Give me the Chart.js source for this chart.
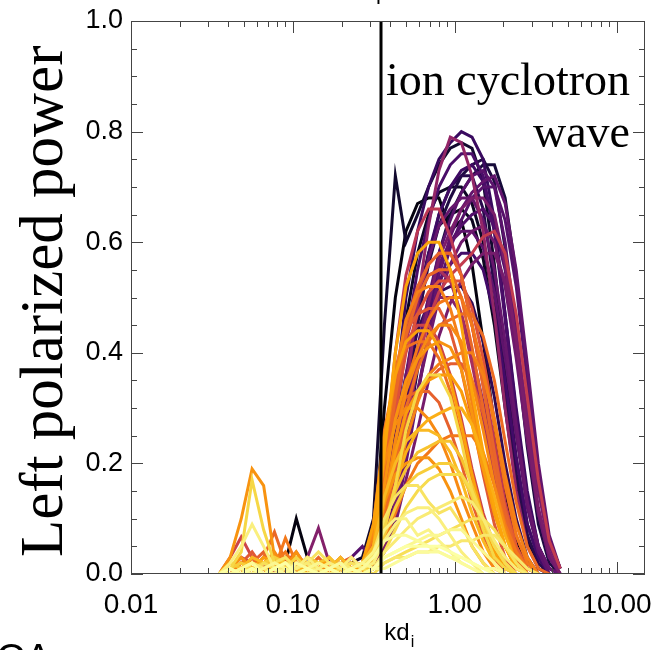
<!DOCTYPE html>
<html>
<head>
<meta charset="utf-8">
<script src="https://cdn.jsdelivr.net/npm/chart.js@4"></script>
<style>
  html, body { margin: 0; padding: 0; background: #fff; }
  #wrap { width: 656px; height: 650px; }
</style>
</head>
<body>
<div id="wrap"><canvas id="myChartPower" width="656" height="650"></canvas></div>
<script>
// kd_i sampling shared by every spectrum
const kd = [0.035, 0.041, 0.048, 0.056, 0.066, 0.077, 0.090, 0.105, 0.123, 0.144, 0.168,
  0.197, 0.230, 0.269, 0.315, 0.368, 0.43, 0.50, 0.59, 0.69, 0.80, 0.94, 1.10, 1.28,
  1.50, 1.76, 2.05, 2.40, 2.81, 3.29, 3.84, 4.49, 5.25];

// left polarized power of each interval, darkest first
const power = [
  [0,0,0,0.01,0,0.01,0.02,0.10,0.03,0,0.01,0,0,0.01,0.05,0.30,0.50,0.62,0.67,0.68,0.68,0.62,0.64,0.56,0.42,0.27,0.14,0.06,0.02,0,null,null,null],
  [0,0,0,0,0.01,0,0,0,0.01,0,0,0.01,0.02,0.03,0.10,0.45,0.72,0.60,0.65,0.70,0.74,0.77,0.78,0.77,0.71,0.56,0.38,0.21,0.09,0.03,0,null,null],
  [0,0,0,0,0,0.01,0,0,0,0,0.01,0,0.01,0.02,0.04,0.14,0.32,0.50,0.62,0.70,0.75,0.78,0.80,0.79,0.75,0.64,0.47,0.29,0.14,0.05,0.01,0,null],
  [0,0,0,0,0.01,0,0,0.01,0,0,0,0,0,0.01,0.02,0.08,0.18,0.32,0.46,0.56,0.63,0.68,0.72,0.74,0.75,0.71,0.59,0.41,0.23,0.09,0.02,0,null],
  [0,0,0.01,0,0,0,0,0,0,0.01,0,0,0.01,0.01,0.03,0.12,0.26,0.42,0.55,0.64,0.70,0.74,0.76,0.76,0.72,0.62,0.46,0.28,0.13,0.04,0.01,0,null],
  [0,0,0,0,0,0,0.01,0,0,0,0,0,0,0.01,0.02,0.07,0.16,0.28,0.40,0.50,0.58,0.64,0.69,0.72,0.73,0.70,0.60,0.44,0.26,0.11,0.03,0,null],
  [0,0,0,0,0,0,0,0.01,0,0,0.01,0,0,0,0.02,0.06,0.15,0.30,0.45,0.57,0.65,0.70,0.72,0.72,0.66,0.52,0.34,0.18,0.07,0.02,0,null,null],
  [0,0,0,0,0,0,0,0,0.01,0,0,0,0.01,0.01,0.03,0.10,0.22,0.36,0.48,0.57,0.63,0.66,0.68,0.68,0.64,0.55,0.42,0.27,0.13,0.05,0.01,0,null],
  [0,0,0,0,0,0,0,0,0,0,0,0,0,0.01,0.03,0.09,0.20,0.35,0.49,0.58,0.63,0.65,0.66,0.64,0.57,0.45,0.30,0.16,0.06,0.01,0,null,null],
  [0,0,0,0,0,0,0,0,0,0,0.01,0,0,0,0.02,0.05,0.12,0.22,0.33,0.42,0.50,0.56,0.60,0.62,0.63,0.60,0.52,0.39,0.24,0.11,0.03,0,null],
  [0,0,0,0,0,0,0,0,0,0.01,0,0,0,0,0.02,0.07,0.16,0.28,0.39,0.47,0.53,0.56,0.58,0.58,0.55,0.47,0.35,0.21,0.09,0.03,0,null,null],
  [0,0,0.01,0,0,0,0.01,0,0,0,0.01,0.01,0.03,0.05,0.02,0.05,0.12,0.22,0.33,0.43,0.52,0.59,0.64,0.68,0.70,0.70,0.64,0.52,0.35,0.18,0.06,0.01,null],
  [0,0,0,0.01,0,0,0,0,0,0,0,0,0,0.01,0.03,0.12,0.25,0.36,0.44,0.49,0.51,0.52,0.52,0.49,0.42,0.32,0.20,0.10,0.03,0,null,null,null],
  [0,0,0,0,0,0,0,0,0,0,0,0,0,0,0.01,0.05,0.12,0.24,0.37,0.49,0.58,0.65,0.69,0.72,0.74,0.74,0.68,0.54,0.36,0.18,0.06,0.01,null],
  [0,0,0,0,0,0,0,0,0,0,0,0,0,0.01,0.02,0.06,0.14,0.26,0.38,0.48,0.55,0.60,0.63,0.65,0.66,0.63,0.55,0.41,0.25,0.11,0.03,0,null],
  [0,0,0,0,0,0,0,0,0,0,0,0,0,0,0.01,0.04,0.10,0.20,0.32,0.44,0.54,0.61,0.66,0.69,0.71,0.72,0.67,0.55,0.38,0.20,0.07,0.01,null],
  [0,0,0,0,0,0,0,0,0,0,0,0,0,0,0.01,0.04,0.09,0.17,0.26,0.35,0.43,0.49,0.53,0.56,0.58,0.58,0.53,0.43,0.29,0.15,0.05,0.01,null],
  [0,0,0,0,0,0,0,0,0,0,0,0,0,0.01,0.04,0.14,0.30,0.46,0.58,0.65,0.69,0.70,0.70,0.67,0.60,0.48,0.33,0.18,0.07,0.01,0,null,null],
  [0,0,0,0,0,0,0,0,0,0,0,0,0,0,0.02,0.08,0.19,0.34,0.48,0.58,0.65,0.70,0.73,0.74,0.71,0.62,0.47,0.30,0.15,0.05,0.01,0,null],
  [0,0,0,0,0,0,0,0,0,0,0,0,0,0,0.02,0.07,0.16,0.29,0.41,0.50,0.56,0.60,0.62,0.62,0.59,0.51,0.39,0.25,0.12,0.04,0,null,null],
  [0,0,0,0,0,0,0,0,0,0,0,0,0,0,0.01,0.05,0.13,0.25,0.38,0.49,0.57,0.62,0.66,0.68,0.68,0.65,0.56,0.42,0.26,0.12,0.04,0,null],
  [0,0,0,0.01,0.02,0,0.01,0,0.02,0.01,0,0,0.01,0,0.02,0.08,0.18,0.33,0.49,0.63,0.73,0.79,0.78,0.72,0.62,0.47,0.30,0.15,0.05,0.01,0,null,null],
  [0,0,0,0,0.01,0,0.02,0.01,0.03,0.083,0.02,0,0,0,0.02,0.07,0.17,0.29,0.39,0.46,0.50,0.50,0.47,0.40,0.31,0.21,0.12,0.05,0.01,0,null,null,null],
  [0,0.01,0.03,0.02,0.01,0,0.01,0,0,0.01,0,0,0,0.01,0.05,0.20,0.40,0.54,0.62,0.66,0.66,0.61,0.54,0.45,0.35,0.24,0.13,0.05,0.01,0,null,null,null],
  [0,0,0,0.01,0,0,0,0.01,0,0,0,0,0,0.01,0.02,0.08,0.17,0.28,0.38,0.46,0.51,0.54,0.56,0.58,0.61,0.62,0.58,0.47,0.32,0.17,0.06,0.01,null],
  [0,0.03,0.067,0.03,0.01,0,0.02,0.01,0,0,0.01,0,0,0.01,0.07,0.22,0.35,0.42,0.45,0.45,0.42,0.36,0.28,0.19,0.11,0.05,0.02,0,null,null,null,null,null],
  [0,0,0,0.01,0,0.02,0.01,0,0.01,0,0,0.01,0,0,0.04,0.14,0.30,0.43,0.51,0.56,0.58,0.58,0.54,0.45,0.34,0.22,0.11,0.04,0.01,0,null,null,null],
  [0,0,0,0,0,0,0,0,0.01,0,0,0,0,0.01,0.04,0.15,0.30,0.42,0.50,0.54,0.55,0.53,0.47,0.38,0.28,0.18,0.09,0.03,0,null,null,null,null],
  [0,0,0,0.02,0.01,0,0.01,0.02,0,0,0,0.01,0,0.01,0.05,0.22,0.40,0.52,0.58,0.60,0.60,0.55,0.45,0.33,0.22,0.12,0.05,0.01,0,null,null,null,null],
  [0,0.03,0.10,0.19,0.16,0.03,0.01,0,0.02,0.01,0,0,0.01,0,0.04,0.16,0.28,0.35,0.39,0.41,0.42,0.41,0.37,0.29,0.20,0.11,0.05,0.01,0,null,null,null,null],
  [0,0,0,0.01,0.03,0.076,0.02,0,0.01,0.03,0.01,0,0.01,0.02,0.06,0.18,0.32,0.43,0.50,0.54,0.55,0.55,0.50,0.41,0.30,0.19,0.09,0.03,0,null,null,null,null],
  [0,0,0.01,0,0.02,0.01,0.065,0.02,0,0.01,0.02,0.01,0,0,0.03,0.12,0.24,0.34,0.41,0.46,0.49,0.50,0.50,0.45,0.37,0.27,0.16,0.07,0.02,0,null,null,null],
  [0,0,0.02,0.04,0.01,0,0.02,0.04,0.01,0,0.01,0.02,0,0.01,0.08,0.24,0.37,0.44,0.47,0.48,0.48,0.44,0.37,0.28,0.18,0.09,0.03,0,null,null,null,null,null],
  [0,0,0.01,0,0.02,0.04,0.01,0.03,0.02,0,0.02,0.01,0,0.01,0.03,0.13,0.24,0.33,0.39,0.43,0.45,0.45,0.42,0.35,0.26,0.16,0.08,0.02,0,null,null,null,null],
  [0,0.01,0,0.03,0.01,0.02,0,0.01,0.03,0.01,0,0.01,0.02,0.01,0.09,0.26,0.36,0.41,0.42,0.42,0.39,0.33,0.25,0.17,0.09,0.04,0.01,0,null,null,null,null,null],
  [0,0,0.02,0.01,0,0.01,0.02,0,0.01,0.02,0,0.01,0,0.01,0.02,0.08,0.16,0.24,0.31,0.36,0.38,0.39,0.40,0.40,0.36,0.28,0.18,0.09,0.03,0,null,null,null],
  [0,0,0,0.01,0,0.01,0.03,0.01,0,0.02,0.01,0.03,0.01,0.02,0.05,0.16,0.29,0.40,0.47,0.51,0.53,0.53,0.53,0.48,0.39,0.28,0.16,0.07,0.02,0,null,null,null],
  [0,0.01,0.02,0.01,0.03,0.02,0.01,0,0.02,0.01,0.03,0.01,0,0.02,0.04,0.13,0.22,0.29,0.33,0.35,0.36,0.36,0.33,0.27,0.19,0.11,0.05,0.01,0,null,null,null,null],
  [0,0,0.01,0.02,0.04,0.01,0,0.02,0.01,0,0.01,0.02,0.03,0.01,0.07,0.20,0.28,0.32,0.33,0.33,0.31,0.26,0.20,0.13,0.07,0.03,0,null,null,null,null,null,null],
  [0,0.01,0,0.01,0.02,0.03,0.01,0.02,0,0.01,0.02,0,0.01,0,0.02,0.09,0.16,0.22,0.26,0.28,0.29,0.30,0.30,0.27,0.21,0.14,0.07,0.02,0,null,null,null,null],
  [0,0.02,0.01,0.03,0.02,0.01,0.03,0.01,0.02,0,0.01,0.03,0.01,0.02,0.05,0.14,0.20,0.24,0.26,0.26,0.25,0.22,0.17,0.11,0.06,0.02,0,null,null,null,null,null,null],
  [0,0,0.01,0,0.01,0.02,0.04,0.01,0.02,0.01,0,0.02,0.01,0,0.02,0.06,0.11,0.16,0.20,0.22,0.24,0.25,0.25,0.25,0.22,0.16,0.09,0.04,0.01,0,null,null,null],
  [0,0.01,0.03,0.01,0,0.02,0.01,0.04,0.01,0.02,0.01,0,0.02,0.01,0.05,0.13,0.18,0.20,0.21,0.21,0.19,0.15,0.10,0.05,0.02,0,null,null,null,null,null,null,null],
  [0,0,0,0,0.01,0,0,0.01,0,0,0,0.01,0,0.01,0.05,0.18,0.33,0.45,0.52,0.56,0.58,0.58,0.54,0.45,0.34,0.22,0.11,0.04,0,null,null,null,null],
  [0,0,0,0.01,0,0,0.01,0,0,0.01,0,0,0.01,0.02,0.07,0.22,0.36,0.46,0.51,0.52,0.52,0.48,0.41,0.31,0.21,0.12,0.05,0.01,0,null,null,null,null],
  [0,0,0,0,0,0.01,0,0,0.01,0,0,0,0,0.01,0.03,0.10,0.20,0.30,0.37,0.42,0.45,0.46,0.47,0.47,0.43,0.35,0.24,0.13,0.05,0.01,0,null,null],
  [0,0,0,0,0.01,0,0,0,0,0.01,0,0,0,0.02,0.09,0.25,0.36,0.42,0.44,0.44,0.41,0.35,0.27,0.18,0.10,0.04,0.01,0,null,null,null,null,null],
  [0,0,0,0,0,0,0.01,0,0,0,0.01,0,0,0.01,0.03,0.10,0.19,0.27,0.32,0.35,0.37,0.38,0.38,0.35,0.29,0.21,0.12,0.05,0.01,0,null,null,null],
  [0,0,0,0,0,0,0,0.01,0,0,0,0.01,0,0.02,0.08,0.20,0.27,0.30,0.30,0.28,0.25,0.20,0.14,0.09,0.04,0.01,0,null,null,null,null,null,null],
  [0,0.02,0.01,0,0.01,0.03,0.02,0.01,0,0.02,0.03,0.01,0.02,0.01,0.03,0.09,0.15,0.19,0.22,0.23,0.24,0.24,0.21,0.16,0.10,0.05,0.02,0,null,null,null,null,null],
  [0,0.01,0.02,0.01,0.02,0.03,0.02,0.01,0.03,0.02,0.01,0.02,0.01,0,0.02,0.07,0.12,0.16,0.18,0.19,0.20,0.20,0.18,0.14,0.09,0.05,0.02,0,null,null,null,null,null],
  [0,0.01,0.04,0.17,0.08,0.02,0.01,0.03,0.01,0.02,0.01,0,0.01,0.02,0.03,0.08,0.16,0.26,0.33,0.36,0.36,0.32,0.24,0.15,0.08,0.03,0.01,0,null,null,null,null,null],
  [0,0,0.01,0,0.02,0.01,0,0.01,0.02,0.01,0,0.01,0,0.01,0,0.02,0.03,0.04,0.05,0.06,0.07,0.08,0.09,0.10,0.10,0.08,0.05,0.02,0,null,null,null,null],
  [0,0.01,0,0.02,0.01,0.02,0.03,0.01,0.02,0.04,0.02,0.01,0.02,0.01,0.04,0.10,0.14,0.16,0.16,0.13,0.11,0.12,0.09,0.05,0.02,0,null,null,null,null,null,null,null],
  [0,0,0.01,0.02,0.01,0,0.02,0.01,0.02,0,0.01,0.02,0.01,0,0.01,0.04,0.06,0.08,0.10,0.11,0.12,0.13,0.14,0.13,0.10,0.06,0.03,0.01,0,null,null,null,null],
  [0,0.02,0.05,0.09,0.05,0.01,0.02,0.01,0.03,0.01,0.02,0.01,0.03,0.01,0.02,0.06,0.09,0.11,0.12,0.12,0.10,0.07,0.04,0.02,0,null,null,null,null,null,null,null,null],
  [0,0,0.01,0,0.01,0.02,0.01,0,0.01,0.02,0.01,0,0.01,0.02,0.01,0.03,0.04,0.05,0.06,0.07,0.07,0.08,0.08,0.06,0.04,0.02,0,null,null,null,null,null,null],
  [0,0,0.01,0.02,0,0.01,0,0.02,0.01,0,0.01,0.02,0,0.01,0.03,0.06,0.07,0.07,0.06,0.05,0.04,0.03,0.02,0.01,0,null,null,null,null,null,null,null,null],
  [0,0.01,0,0.01,0,0.01,0.02,0,0.01,0,0.01,0,0.01,0,0.01,0.03,0.04,0.05,0.05,0.05,0.05,0.04,0.03,0.02,0.01,0,null,null,null,null,null,null,null],
  [0,0,0,0.01,0,0,0.01,0,0,0.01,0,0,0.01,0.02,0.04,0.08,0.10,0.10,0.07,0.08,0.06,0.04,0.02,0.01,0,null,null,null,null,null,null,null,null],
  [0,0,0,0,0.01,0,0,0,0.01,0,0,0.01,0,0,0.01,0.04,0.08,0.12,0.15,0.17,0.18,0.18,0.18,0.15,0.10,0.05,0.02,0,null,null,null,null,null],
  [0,0,0,0,0,0.01,0,0,0,0,0.01,0,0,0,0.01,0.02,0.03,0.03,0.04,0.04,0.05,0.05,0.06,0.06,0.07,0.07,0.05,0.03,0.01,0,null,null,null],
  [0,0,0,0,0,0,0,0,0,0,0,0,0,0,0.01,0.01,0.02,0.03,0.04,0.04,0.04,0.03,0.03,0.02,0.01,0.01,0,null,null,null,null,null,null]
];

// position of each interval on the colour bar (0 = black, 1 = pale yellow)
const shade = [0.02, 0.08, 0.18, 0.12, 0.22, 0.26, 0.14, 0.29, 0.05, 0.31, 0.20, 0.25, 0.16,
  0.10, 0.24, 0.28, 0.33, 0.06, 0.19, 0.27, 0.34,
  0.40, 0.36, 0.50, 0.52, 0.55, 0.58, 0.45,
  0.80, 0.76, 0.66, 0.70, 0.62, 0.74, 0.68, 0.72, 0.60, 0.78, 0.64, 0.82, 0.84, 0.70, 0.76,
  0.65, 0.72, 0.67, 0.79, 0.63, 0.74,
  0.86, 0.88, 0.90, 0.92, 0.93, 0.95, 0.96, 0.98, 0.99, 1.00, 0.97, 0.91, 0.94, 0.99];

const kdCutoff = 0.35;
const xTickValues = [0.01, 0.1, 1, 10];
const xTickLabels = ['0.01', '0.10', '1.00', '10.00'];
const yTickLabels = ['0.0', '0.2', '0.4', '0.6', '0.8', '1.0'];

//COLOUR TABLE (inferno)
const infernoStops = ['#000004', '#160b39', '#420a68', '#6a176e', '#932667', '#bc3754',
  '#dd513a', '#f37819', '#fca50a', '#f6d746', '#fcffa4'];

function hexRgb (h) {
  return [1, 3, 5].map(i => parseInt(h.slice(i, i + 2), 16));
}

function inferno (t) {
  const p = Math.min(Math.max(t, 0), 1) * (infernoStops.length - 1);
  const i = Math.min(Math.floor(p), infernoStops.length - 2);
  const f = p - i;
  const a = hexRgb(infernoStops[i]);
  const b = hexRgb(infernoStops[i + 1]);
  const c = a.map((v, k) => Math.round(v + (b[k] - v) * f));
  return `rgb(${c[0]},${c[1]},${c[2]})`;
}

const datasets = power.map((vals, i) => ({
  data: kd.map((k, j) => ({ x: k, y: vals[j] })).filter(p => p.y != null),
  borderColor: inferno(shade[i]),
  borderWidth: 3,
  pointRadius: 0,
  tension: 0,
  fill: false,
  order: -shade[i]
}));

//FRAME, TICKS AND LABELS
const framePlugin = {
  id: 'framePlugin',
  afterDatasetsDraw (chart) {
    const { ctx, chartArea: a, scales: { x, y } } = chart;
    ctx.save();

    // marker line at kd_i = 0.35
    const xc = Math.round(x.getPixelForValue(kdCutoff));
    ctx.strokeStyle = '#000';
    ctx.lineWidth = 3;
    ctx.beginPath();
    ctx.moveTo(xc, a.top);
    ctx.lineTo(xc, a.bottom);
    ctx.stroke();

    // box
    ctx.strokeStyle = '#444';
    ctx.lineWidth = 1;
    ctx.strokeRect(a.left + 0.5, a.top + 0.5, a.right - a.left - 1, a.bottom - a.top - 1);

    // inward ticks on all four sides
    ctx.beginPath();
    xTickValues.forEach(dec => {
      for (let m = 1; m <= 9; m++) {
        const v = dec * m;
        if (v > x.max) break;
        const px = Math.round(x.getPixelForValue(v)) + 0.5;
        const len = m === 1 ? 12 : 6;
        ctx.moveTo(px, a.bottom);
        ctx.lineTo(px, a.bottom - len);
        ctx.moveTo(px, a.top);
        ctx.lineTo(px, a.top + len);
      }
    });
    for (let n = 0; n <= 20; n++) {
      const py = Math.round(y.getPixelForValue(n / 20)) + 0.5;
      const len = n % 4 === 0 ? 12 : 6;
      ctx.moveTo(a.left, py);
      ctx.lineTo(a.left + len, py);
      ctx.moveTo(a.right, py);
      ctx.lineTo(a.right - len, py);
    }
    ctx.stroke();
    ctx.restore();
  },
  afterDraw (chart) {
    const { ctx } = chart;
    ctx.save();
    ctx.fillStyle = '#000';

    // y title
    ctx.font = '61px "Liberation Serif"';
    ctx.textAlign = 'left';
    ctx.textBaseline = 'alphabetic';
    ctx.save();
    ctx.translate(62, 557);
    ctx.rotate(-Math.PI / 2);
    ctx.fillText('Left polarized power', 0, 0);
    ctx.restore();

    // annotation
    ctx.font = '46px "Liberation Serif"';
    ctx.textAlign = 'right';
    ctx.fillText('ion cyclotron', 630, 95);
    ctx.fillText('wave', 630, 147);

    // x title kd_i
    ctx.font = '24px "Liberation Sans"';
    ctx.textAlign = 'left';
    const wk = ctx.measureText('kd').width;
    const x0 = 397 - wk / 2;
    ctx.fillText('kd', x0, 640);
    ctx.font = '16px "Liberation Sans"';
    ctx.fillText('i', x0 + wk + 1, 647);

    // panel letters below and title descender above
    ctx.font = '40px "Liberation Sans"';
    ctx.fillText('CA', -4, 672);
    ctx.font = '22px "Liberation Sans"';
    ctx.fillText('p', 376, -1);
    ctx.restore();
  }
};

const ctxPower = document.getElementById('myChartPower');

let myChartPower = new Chart(ctxPower, {
  type: 'line',
  data: { datasets },
  options: {
    responsive: false,
    animation: false,
    layout: { padding: { left: 0, right: 11, top: 21, bottom: 0 } },
    plugins: {
      legend: { display: false },
      tooltip: { enabled: false }
    },
    scales: {
      x: {
        type: 'logarithmic',
        min: 0.01,
        max: 15,
        grid: { display: false, drawTicks: false },
        border: { display: false },
        afterBuildTicks: s => { s.ticks = xTickValues.map(v => ({ value: v })); },
        afterFit: s => { s.height = 76; s.paddingLeft = 0; s.paddingRight = 0; },
        ticks: {
          autoSkip: false,
          maxRotation: 0,
          padding: 14,
          color: '#000',
          font: { family: 'Liberation Sans', size: 28 },
          callback: (v) => xTickLabels[xTickValues.indexOf(v)]
        }
      },
      y: {
        min: 0,
        max: 1,
        grid: { display: false, drawTicks: false },
        border: { display: false },
        afterFit: s => { s.width = 131; s.paddingTop = 0; s.paddingBottom = 0; },
        ticks: {
          stepSize: 0.2,
          padding: 8,
          color: '#000',
          font: { family: 'Liberation Sans', size: 27 },
          callback: (v) => yTickLabels[Math.round(v * 5)]
        }
      }
    }
  },
  plugins: [framePlugin]
});
</script>
</body>
</html>
